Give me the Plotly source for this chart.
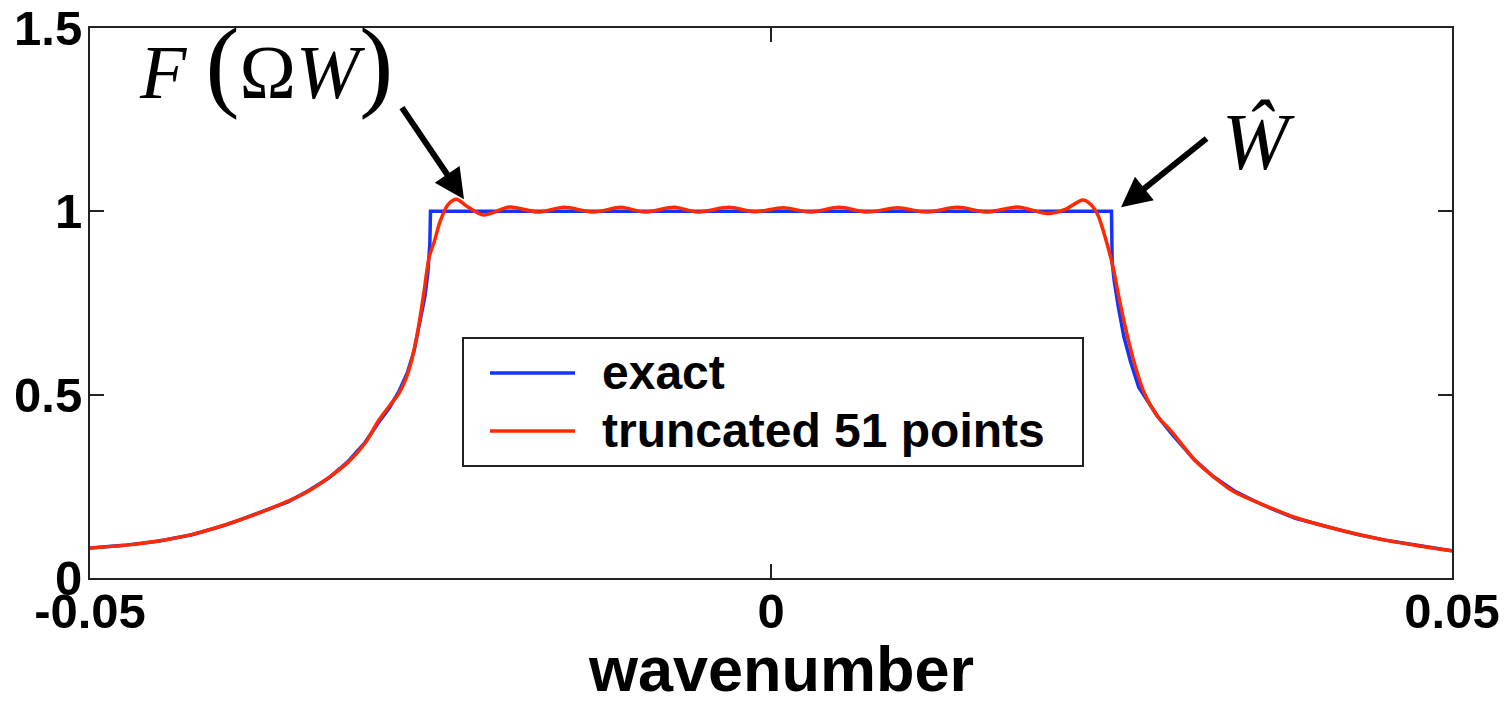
import plotly.graph_objects as go

# ---- data ----
exact_k = [-0.05, -0.0475, -0.045, -0.0425, -0.04, -0.0385, -0.037, -0.0355, -0.034,
           -0.0325, -0.0311, -0.0298, -0.0288, -0.028, -0.0273, -0.0267, -0.0262,
           -0.0258, -0.0254, -0.0252, -0.02505, -0.025,
           0.025, 0.02505, 0.0252, 0.0255, 0.0259, 0.0264, 0.027, 0.0277, 0.0284,
           0.0295, 0.0311, 0.0325, 0.034, 0.0355, 0.037, 0.0385, 0.0409, 0.043,
           0.045, 0.0475, 0.05]
exact_v = [0.082, 0.089, 0.100, 0.118, 0.145, 0.166, 0.186, 0.207, 0.237,
           0.272, 0.316, 0.370, 0.425, 0.465, 0.510, 0.560, 0.620,
           0.690, 0.770, 0.830, 0.910, 1.0,
           1.0, 0.860, 0.810, 0.740, 0.660, 0.590, 0.520, 0.480, 0.440,
           0.390, 0.322, 0.276, 0.238, 0.210, 0.185, 0.163, 0.139, 0.119,
           0.104, 0.088, 0.074]

trunc_k = [-0.05, -0.0475, -0.045, -0.0425, -0.04, -0.037, -0.034, -0.0311, -0.0298,
           -0.0288, -0.028, -0.0273, -0.0266, -0.026, -0.0255, -0.0251, -0.0247,
           -0.0243, -0.0237, -0.0231, -0.0223, -0.0211, -0.0192, -0.0171, -0.0152,
           -0.0130, -0.0110, -0.0093, -0.0071, -0.0054, -0.0031, -0.0012, 0.0009,
           0.0029, 0.0050, 0.0071, 0.0093, 0.0114, 0.0137, 0.0159, 0.0181, 0.0203,
           0.0216, 0.0229, 0.0235, 0.0240, 0.02445, 0.0251, 0.0256, 0.0262, 0.0267,
           0.0274, 0.0284, 0.0294, 0.0311, 0.0325, 0.034, 0.0365, 0.0385, 0.0409,
           0.043, 0.045, 0.0475, 0.05]
trunc_v = [0.082, 0.089, 0.101, 0.119, 0.146, 0.186, 0.236, 0.314, 0.368,
           0.430, 0.470, 0.505, 0.565, 0.660, 0.775, 0.875, 0.920,
           0.972, 1.019, 1.033, 1.013, 0.990, 1.012, 0.998, 1.011,
           0.998, 1.011, 0.998, 1.011, 0.998, 1.011, 0.999, 1.010,
           0.998, 1.011, 0.998, 1.010, 0.998, 1.011, 0.998, 1.012, 0.994,
           1.005, 1.031, 1.018, 0.990, 0.940, 0.850, 0.755, 0.655, 0.583,
           0.505, 0.440, 0.400, 0.322, 0.276, 0.235, 0.194, 0.165, 0.139,
           0.120, 0.104, 0.088, 0.074]

x_ticks = [-0.05, 0, 0.05]
x_tick_text = ["-0.05", "0", "0.05"]
y_ticks = [0, 0.5, 1, 1.5]
y_tick_text = ["0", "0.5", "1", "1.5"]
series_names = ["exact", "truncated 51 points"]
x_title = "wavenumber"

BLUE = "#1433ff"
RED = "#ff2a00"
AX = "#222222"

fig = go.Figure()
fig.add_trace(go.Scatter(x=exact_k, y=exact_v, mode="lines", name=series_names[0],
                         line=dict(color=BLUE, width=3.5), showlegend=False))
fig.add_trace(go.Scatter(x=trunc_k, y=trunc_v, mode="lines", name=series_names[1],
                         line=dict(color=RED, width=3.5, shape="spline", smoothing=0.8),
                         showlegend=False))

W, H = 1509, 709
L, R, T, B = 90, 57, 28, 131
pw, ph = W - L - R, H - T - B


def px(x):
    return (x - L) / pw


def py(y):
    return (H - B - y) / ph


# legend drawn as box + sample lines + real text
shapes = [
    dict(type="rect", xref="paper", yref="paper", x0=px(463), x1=px(1083), y0=py(466), y1=py(338),
         line=dict(color=AX, width=2), fillcolor="white", layer="above"),
    dict(type="line", xref="paper", yref="paper", x0=px(490), x1=px(575), y0=py(373), y1=py(373),
         line=dict(color=BLUE, width=3.5), layer="above"),
    dict(type="line", xref="paper", yref="paper", x0=px(490), x1=px(575), y0=py(431), y1=py(431),
         line=dict(color=RED, width=3.5), layer="above"),
]

SANS = "Liberation Sans, Arial, sans-serif"
SERIF = "Liberation Serif, Times New Roman, serif"
font_bold = dict(family=SANS, size=48, color="black", weight="bold")
annotations = [
    dict(xref="paper", yref="paper", x=px(600), y=py(373), xanchor="left", yanchor="middle",
         text=series_names[0], showarrow=False, font=font_bold),
    dict(xref="paper", yref="paper", x=px(600), y=py(431), xanchor="left", yanchor="middle",
         text=series_names[1], showarrow=False, font=font_bold),
    # x axis title
    dict(xref="paper", yref="paper", x=px(781), y=py(669), xanchor="center", yanchor="middle",
         text=x_title, showarrow=False, font=dict(family=SANS, size=63, color="black", weight="bold")),
    # F(ΩW) label
    dict(xref="paper", yref="paper", x=px(137), y=py(64), xanchor="left", yanchor="middle",
         text='<i>F</i> <span style="font-size:102px">(</span>Ω<i>W</i><span style="font-size:102px">)</span>',
         showarrow=False, font=dict(family=SERIF, size=76, color="black")),
    # W-hat label
    dict(xref="paper", yref="paper", x=px(1258), y=py(142), xanchor="center", yanchor="middle",
         text="<i>Ŵ</i>", showarrow=False, font=dict(family=SERIF, size=80, color="black")),
    # arrows
    dict(x=-0.02254, y=1.033, ax=-0.02717, ay=1.287, xref="x", yref="y", axref="x", ayref="y",
         text="", showarrow=True, arrowhead=2, arrowsize=1, arrowwidth=6, arrowcolor="black",
         standoff=0, startstandoff=0),
    dict(x=0.0257, y=1.011, ax=0.03209, ay=1.202, xref="x", yref="y", axref="x", ayref="y",
         text="", showarrow=True, arrowhead=2, arrowsize=1, arrowwidth=6, arrowcolor="black",
         standoff=0, startstandoff=0),
]

tickfont = dict(family=SANS, size=49, color="black", weight="bold")

fig.update_xaxes(range=[-0.05, 0.05], tickvals=x_ticks, ticktext=x_tick_text,
                 ticks="inside", ticklen=14, tickwidth=2, tickcolor=AX,
                 showline=True, linecolor=AX, linewidth=2, mirror="allticks",
                 showgrid=False, zeroline=False, tickfont=tickfont, ticklabelstandoff=-11,
                 automargin=False)
fig.update_yaxes(range=[0, 1.5], tickvals=y_ticks, ticktext=y_tick_text,
                 ticks="inside", ticklen=14, tickwidth=2, tickcolor=AX,
                 showline=True, linecolor=AX, linewidth=2, mirror="allticks",
                 showgrid=False, zeroline=False, tickfont=tickfont, ticklabelstandoff=-4,
                 automargin=False)

fig.update_layout(width=W, height=H, margin=dict(l=L, r=R, t=T, b=B, autoexpand=False),
                  paper_bgcolor="white", plot_bgcolor="white",
                  shapes=shapes, annotations=annotations, showlegend=False)

fig.write_html("out.html", config={"displayModeBar": False},
               post_script="document.body.style.margin='0px';")
